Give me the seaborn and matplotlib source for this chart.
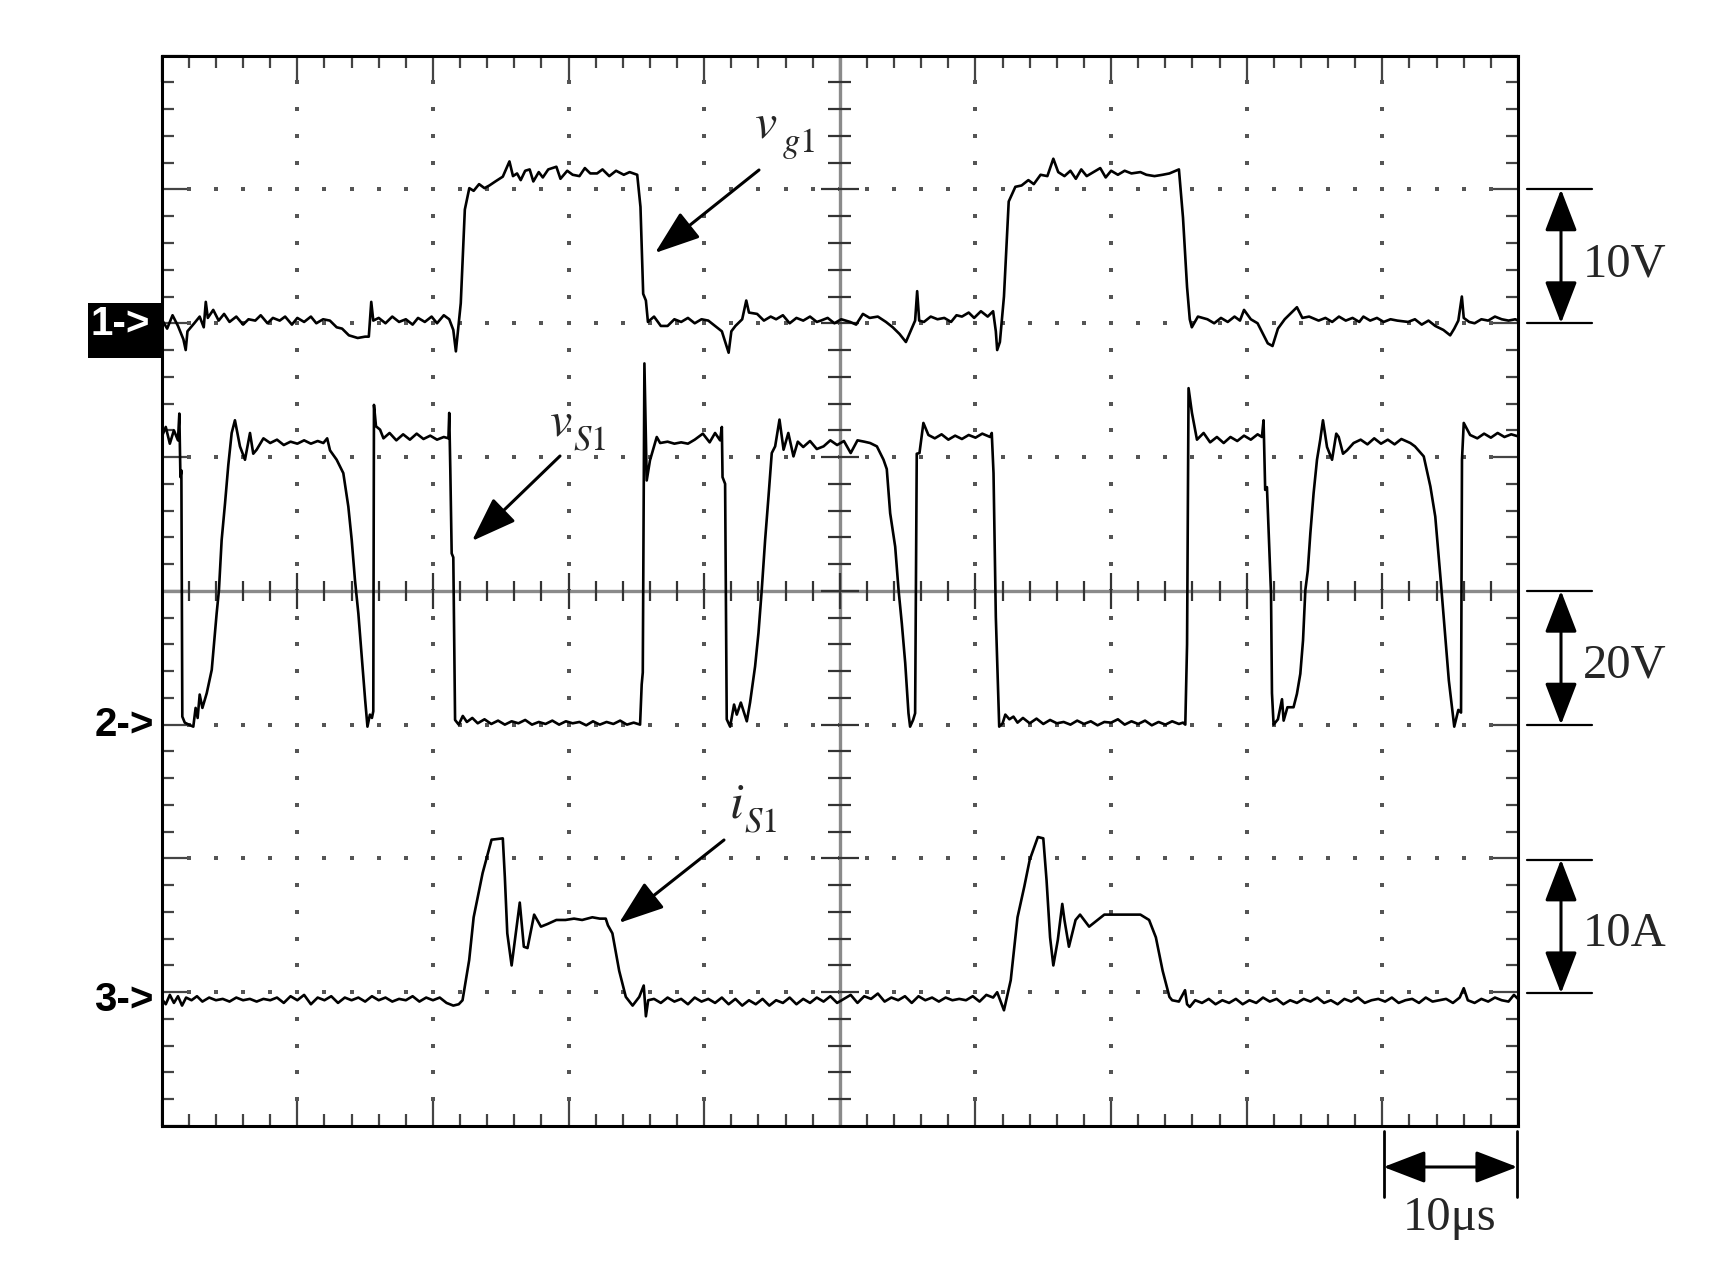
import matplotlib
matplotlib.use('Agg')
import matplotlib.pyplot as plt
from matplotlib.patches import Rectangle, FancyArrowPatch
from matplotlib.lines import Line2D
from matplotlib.ticker import MultipleLocator
import seaborn as sns
import pandas as pd
import numpy as np

# channel 1: gate voltage v_g1 [V], 10 V/div
vg1_t = [0.0, 0.4, 0.8, 1.2, 1.6, 1.77, 1.9, 2.4, 2.8, 3.1, 3.25, 3.4, 3.8, 4.2, 4.6, 5.0,
         5.5, 6.0, 6.4, 6.9, 7.3, 7.8, 8.2, 8.7, 9.1, 9.6, 10.0, 10.5, 11.0, 11.4, 11.9,
         12.4, 12.9, 13.3, 13.8, 14.45, 15.0, 15.27, 15.45, 15.6, 16.0, 16.5, 17.0, 17.5,
         18.0, 18.5, 18.9, 19.4, 19.9, 20.3, 20.8, 21.2, 21.5, 21.69, 21.85, 22.05, 22.35,
         22.68, 23.0, 23.4, 23.8, 24.16, 24.6, 25.15, 25.64, 25.9, 26.2, 26.47, 26.8, 27.13,
         27.4, 27.8, 28.1, 28.5, 29.1, 29.4, 29.9, 30.3, 30.8, 31.2, 31.6, 32.1, 32.5, 33.0,
         33.5, 34.07, 34.5, 35.06, 35.3, 35.5, 35.7, 35.85, 36.3, 36.8, 37.3, 37.8, 38.3,
         38.8, 39.3, 39.8, 40.3, 40.8, 41.3, 41.8, 42.0, 42.3, 42.8, 43.1, 43.3, 43.9, 44.4,
         44.9, 45.3, 45.8, 46.3, 46.8, 47.3, 47.8, 48.3, 48.6, 49.1, 49.6, 50.1, 50.76, 51.2,
         51.7, 52.2, 52.8, 53.4, 53.9, 54.4, 54.87, 55.3, 55.55, 55.7, 55.85, 56.2, 56.7,
         57.2, 57.7, 58.2, 58.6, 59.0, 59.5, 59.9, 60.4, 60.9, 61.3, 61.5, 61.6, 61.8, 62.1,
         62.45, 62.94, 63.4, 63.9, 64.3, 64.8, 65.3, 65.74, 66.1, 66.56, 67.0, 67.4, 67.8,
         68.2, 68.7, 69.2, 69.6, 70.0, 70.5, 71.0, 71.5, 72.16, 72.6, 73.2, 73.8, 74.3, 75.0,
         75.3, 75.6, 75.8, 75.95, 76.4, 77.1, 77.6, 78.1, 78.6, 79.1, 79.5, 79.8, 80.3, 80.8,
         81.2, 81.55, 81.9, 82.3, 82.8, 83.3, 83.7, 84.1, 84.6, 85.3, 85.8, 86.3, 86.8, 87.3,
         87.8, 88.3, 88.6, 89.1, 89.6, 90.1, 90.6, 91.1, 91.9, 92.4, 92.9, 93.4, 93.9, 94.5,
         95.0, 95.3, 95.6, 95.86, 96.0, 96.4, 96.8, 97.3, 97.8, 98.3, 98.8, 99.3, 99.8, 100.0]
vg1_v = [0.3, -0.4, 0.6, -0.2, -1.2, -2.0, -0.6, 0.0, 0.5, -0.3, 1.6, 0.4, 1.0, 0.2, 0.7, 0.1,
         0.5, -0.1, 0.3, 0.2, 0.6, 0.0, 0.4, 0.2, 0.5, -0.1, 0.4, 0.1, 0.5, 0.0, 0.3,
         0.2, -0.3, -0.4, -0.9, -1.1, -1.0, -1.0, 1.6, 0.2, 0.4, 0.0, 0.5, 0.1,
         0.3, -0.1, 0.4, 0.1, 0.5, 0.0, 0.6, 0.3, -0.5, -2.1, -0.5, 1.5, 8.5,
         10.1, 9.9, 10.4, 10.1, 10.3, 10.6, 10.96, 12.1, 11.0, 11.2, 10.7, 11.4, 11.5,
         10.6, 11.3, 10.9, 11.5, 11.7, 10.8, 11.4, 11.1, 11.0, 11.6, 11.2, 11.2, 11.5, 11.0,
         11.4, 11.1, 11.3, 11.1, 8.7, 2.2, 1.7, 0.1, 0.5, -0.2, -0.2, 0.3, 0.1,
         0.4, 0.0, 0.3, 0.2, -0.2, -0.6, -2.2, -0.6, -0.2, 0.3, 1.7, 0.8, 0.7, 0.2,
         0.5, 0.3, 0.6, 0.0, 0.4, 0.2, 0.5, 0.1, 0.2, 0.4, 0.0, 0.3, 0.1, -0.1,
         0.7, 0.4, 0.5, 0.1, -0.3, -0.8, -1.4, -0.4, 0.2, 2.4, 0.2, 0.1, 0.5,
         0.3, 0.4, 0.1, 0.6, 0.5, 0.8, 0.4, 0.9, 0.5, 0.9, -0.6, -2.0, -1.4, 2.0,
         9.1, 10.2, 10.3, 10.7, 10.4, 11.1, 11.0, 12.3, 11.3, 11.0, 11.4, 10.8, 11.5,
         11.0, 11.3, 11.6, 10.9, 11.4, 11.1, 11.4, 11.2, 11.3, 11.1, 11.0, 11.1, 11.2, 11.5,
         7.9, 2.7, 0.3, -0.3, 0.5, 0.3, 0.0, 0.4, 0.1, 0.5, 0.2, 1.0, 0.3, 0.0,
         -0.8, -1.5, -1.7, -0.4, 0.3, 0.8, 1.2, 0.4, 0.5, 0.2, 0.4, 0.1, 0.5, 0.2,
         0.4, 0.1, 0.5, 0.2, 0.4, 0.1, 0.3, 0.2, 0.1, 0.3, -0.1, 0.2, -0.2, -0.5,
         -0.9, -0.4, 0.2, 2.0, 0.4, 0.1, 0.0, 0.3, 0.2, 0.5, 0.3, 0.2, 0.3, 0.2]

# channel 2: switch voltage v_S1 [V], 20 V/div
vs1_t = [0.0, 0.3, 0.6, 0.9, 1.2, 1.3, 1.38, 1.45, 1.52, 1.7, 2.0, 2.33, 2.5, 2.65, 2.8, 3.0,
         3.32, 3.69, 4.05, 4.22, 4.42, 4.67, 4.91, 5.16, 5.4, 5.77, 6.14, 6.51, 6.75, 7.0,
         7.5, 8.0, 8.5, 9.0, 9.5, 10.0, 10.5, 11.0, 11.5, 11.92, 12.2, 12.41, 12.9, 13.39,
         13.76, 14.01, 14.25, 14.5, 14.75, 15.0, 15.17, 15.35, 15.5, 15.6, 15.65, 15.8, 16.1,
         16.35, 16.8, 17.3, 17.8, 18.3, 18.8, 19.3, 19.8, 20.3, 20.8, 21.14, 21.2, 21.28,
         21.38, 21.5, 21.63, 21.9, 22.2, 22.5, 22.9, 23.3, 23.8, 24.3, 24.8, 25.3, 25.8,
         26.3, 26.8, 27.3, 27.8, 28.3, 28.8, 29.3, 29.8, 30.3, 30.8, 31.3, 31.8, 32.3, 32.8,
         33.3, 33.8, 34.3, 34.8, 35.27, 35.39, 35.47, 35.59, 35.76, 36.0, 36.5, 36.75, 37.3,
         37.8, 38.3, 38.8, 39.3, 39.9, 40.4, 40.8, 41.17, 41.3, 41.35, 41.54, 41.66, 41.91,
         42.2, 42.4, 42.7, 43.14, 43.38, 43.75, 44.0, 44.24, 44.49, 44.74, 44.98, 45.23,
         45.55, 45.85, 46.2, 46.58, 46.9, 47.3, 47.8, 48.3, 48.8, 49.3, 49.8, 50.3, 50.8,
         51.3, 51.8, 52.23, 52.73, 53.22, 53.46, 53.71, 54.08, 54.33, 54.57, 54.82, 55.06,
         55.18, 55.4, 55.55, 55.67, 55.87, 56.16, 56.53, 57.0, 57.5, 58.0, 58.5, 59.0, 59.5,
         60.0, 60.5, 61.08, 61.2, 61.33, 61.5, 61.75, 62.0, 62.2, 62.5, 62.8, 63.1, 63.5,
         64.0, 64.5, 65.0, 65.5, 66.0, 66.5, 67.0, 67.5, 68.0, 68.5, 69.0, 69.5, 70.0, 70.5,
         71.0, 71.5, 72.0, 72.5, 73.0, 73.5, 74.0, 74.5, 75.0, 75.3, 75.47, 75.6, 75.71,
         75.96, 76.33, 76.82, 77.3, 77.8, 78.3, 78.8, 79.3, 79.8, 80.3, 80.8, 81.12, 81.24,
         81.36, 81.49, 81.61, 81.79, 81.86, 81.98, 82.3, 82.6, 82.72, 83.0, 83.45, 83.7,
         83.95, 84.15, 84.32, 84.5, 84.69, 84.93, 85.18, 85.42, 85.62, 85.92, 86.29, 86.6,
         86.78, 87.1, 87.39, 87.88, 88.4, 88.9, 89.4, 89.9, 90.4, 90.9, 91.4, 92.06, 92.4,
         93.05, 93.54, 93.9, 94.3, 94.5, 94.9, 95.3, 95.6, 95.8, 95.87, 96.0, 96.47, 97.0,
         97.5, 98.0, 98.5, 99.0, 99.5, 100.0]
vs1_v = [43.0, 44.5, 42.0, 44.0, 42.5, 46.5, 37.0, 38.0, 1.2, 0.3, 0.0, -0.3, 2.5, 1.0, 4.5, 2.5,
         4.7, 8.2, 16.6, 20.1, 27.6, 33.1, 38.8, 43.6, 45.5, 41.6, 39.6, 43.6, 40.5, 41.1,
         42.8, 42.1, 42.6, 41.8, 42.3, 42.0, 42.5, 42.0, 42.4, 42.1, 42.8, 41.0, 39.6, 37.6,
         32.6, 27.6, 21.6, 16.6, 10.2, 3.7, -0.3, 1.5, 1.0, 2.0, 47.8, 44.6, 44.1,
         42.8, 43.6, 42.5, 43.4, 42.6, 43.5, 42.7, 43.2, 42.6, 43.0, 42.8, 46.6, 38.0,
         25.6, 25.0, 0.7, 0.0, 1.3, 0.4, 1.0, 0.2, 0.8, 0.1, 0.6, 0.0, 0.5,
         0.2, 0.7, 0.0, 0.4, 0.1, 0.6, 0.0, 0.5, 0.2, 0.4, -0.1, 0.5, 0.0, 0.4,
         0.1, 0.6, 0.0, 0.3, 0.0, 6.0, 7.8, 54.0, 36.5, 39.5, 43.0, 42.1, 42.3,
         42.0, 42.2, 42.0, 42.6, 43.5, 42.2, 43.6, 42.5, 44.5, 37.0, 36.0, 0.8, -0.3,
         3.0, 1.5, 3.3, 0.5, 3.3, 8.7, 13.7, 20.1, 27.6, 34.1, 40.6, 41.6,
         45.6, 41.1, 43.6, 40.1, 42.3, 41.5, 42.4, 41.2, 41.6, 42.5, 41.8, 42.4, 40.6,
         42.5, 42.3, 42.1, 41.6, 39.6, 38.2, 31.6, 26.6, 20.1, 15.1, 9.2, 1.7,
         -0.3, 0.7, 1.7, 40.5, 40.6, 45.1, 43.3, 42.8, 43.4, 42.6, 43.2, 42.7, 43.3,
         42.9, 43.5, 43.0, 43.6, 37.6, 16.1, -0.3, 0.2, 1.5, 0.8, 1.2, 0.3, 1.0,
         0.2, 0.9, 0.1, 0.7, 0.2, 0.4, 0.0, 0.6, 0.1, 0.5, -0.1, 0.4, 0.3, 0.8,
         0.0, 0.5, 0.1, 0.6, -0.1, 0.4, 0.0, 0.5, 0.1, 0.3, 0.0, 12.0, 50.3,
         46.6, 42.6, 43.6, 42.2, 43.0, 42.1, 43.0, 42.4, 43.2, 42.6, 43.4, 43.0, 45.5,
         35.1, 35.5, 29.1, 19.6, 4.7, 0.0, 0.8, 3.8, 0.6, 2.6, 2.6, 4.6,
         7.6, 12.6, 20.1, 23.0, 28.6, 34.6, 39.6, 42.6, 45.5, 41.5, 39.6, 43.5,
         43.0, 40.5, 41.0, 42.1, 42.6, 41.9, 42.8, 42.0, 42.6, 41.9, 42.7, 42.1, 41.6,
         40.1, 35.6, 31.1, 21.6, 16.6, 6.6, -0.3, 2.2, 1.8, 39.6, 45.1, 43.3, 42.8,
         43.5, 42.9, 43.6, 43.0, 43.4, 43.1]

# channel 3: switch current i_S1 [A], 10 A/div
is1_t = [0.0, 0.3, 0.6, 0.9, 1.2, 1.5, 1.8, 2.2, 2.6, 3.0, 3.5, 4.0, 4.5, 5.0, 5.5, 6.0, 6.5,
         7.0, 7.5, 8.0, 8.5, 9.0, 9.5, 10.0, 10.5, 11.0, 11.5, 12.0, 12.5, 13.0, 13.5, 14.0,
         14.5, 15.0, 15.5, 16.0, 16.5, 17.0, 17.5, 18.0, 18.5, 19.0, 19.5, 20.0, 20.5, 21.0,
         21.5, 21.9, 22.18, 22.67, 23.0, 23.66, 24.32, 25.15, 25.3, 25.48, 25.8, 26.4, 26.7,
         26.97, 27.46, 27.96, 28.45, 29.1, 29.77, 30.4, 31.0, 31.75, 32.3, 32.74, 32.9,
         33.23, 33.73, 34.22, 34.72, 35.21, 35.54, 35.7, 35.87, 36.3, 36.8, 37.3, 37.8,
         38.3, 38.8, 39.3, 39.8, 40.3, 40.8, 41.3, 41.8, 42.3, 42.8, 43.3, 43.8, 44.3, 44.8,
         45.3, 45.8, 46.3, 46.8, 47.3, 47.8, 48.3, 48.8, 49.3, 49.8, 50.3, 50.8, 51.3, 51.8,
         52.3, 52.8, 53.3, 53.8, 54.3, 54.8, 55.3, 55.8, 56.3, 56.8, 57.3, 57.8, 58.3, 58.8,
         59.3, 59.8, 60.3, 60.8, 61.3, 61.6, 61.9, 62.1, 62.6, 63.1, 63.6, 64.0, 64.6, 65.0,
         65.24, 65.5, 65.74, 66.07, 66.4, 66.56, 66.89, 67.38, 67.71, 68.38, 69.5, 70.5,
         71.3, 72.16, 72.8, 73.3, 73.8, 74.3, 74.5, 75.0, 75.45, 75.6, 75.8, 76.2, 76.7,
         77.2, 77.7, 78.2, 78.7, 79.2, 79.7, 80.2, 80.7, 81.2, 81.7, 82.2, 82.7, 83.2, 83.7,
         84.2, 84.7, 85.2, 85.7, 86.2, 86.7, 87.2, 87.7, 88.2, 88.7, 89.2, 89.7, 90.2, 90.7,
         91.2, 91.7, 92.2, 92.7, 93.2, 93.7, 94.2, 94.7, 95.2, 95.7, 96.0, 96.3, 96.8, 97.3,
         97.8, 98.3, 98.8, 99.3, 99.7, 100.0]
is1_a = [0.1, -0.3, 0.4, -0.2, 0.3, -0.4, 0.2, 0.0, 0.3, -0.1, 0.2, 0.0, 0.1, -0.1, 0.2, 0.0, 0.1,
         -0.1, 0.1, 0.0, 0.2, -0.2, 0.3, 0.0, 0.4, -0.3, 0.2, 0.0, 0.3, -0.2, 0.2, 0.0,
         0.2, -0.1, 0.3, 0.0, 0.2, -0.1, 0.1, 0.0, 0.3, -0.1, 0.2, 0.0, 0.2, -0.2,
         -0.4, -0.3, 0.0, 3.0, 6.2, 9.5, 12.0, 12.1, 9.2, 5.0, 2.6, 7.3, 4.0,
         3.9, 6.4, 5.5, 5.7, 6.0, 6.0, 6.1, 6.0, 6.2, 6.1, 6.1, 5.6,
         5.0, 2.2, 0.25, -0.4, 0.25, 1.1, -1.2, 0.0, 0.1, -0.2, 0.2, -0.1,
         0.1, -0.3, 0.2, -0.1, 0.1, -0.2, 0.2, -0.3, 0.1, -0.4, 0.0, -0.3, 0.1, -0.4,
         0.0, -0.2, 0.2, -0.3, 0.1, -0.2, 0.2, -0.1, 0.3, -0.2, 0.1, 0.4, -0.2, 0.3,
         0.1, 0.5, -0.1, 0.2, 0.0, 0.3, -0.2, 0.3, 0.0, 0.2, -0.1, 0.2, 0.0, 0.1,
         0.0, 0.3, -0.1, 0.4, 0.2, 0.6, -0.2, -0.75, 1.5, 6.2, 8.5, 10.5, 12.2, 12.1,
         8.97, 4.7, 2.6, 4.5, 7.2, 6.0, 4.0, 6.0, 6.4, 5.5, 6.4, 6.4,
         6.4, 6.4, 6.0, 4.7, 2.2, 0.25, 0.0, -0.1, 0.75, -0.3, -0.5, 0.0, -0.2,
         0.1, -0.3, 0.0, -0.2, 0.1, -0.3, 0.0, -0.2, 0.2, -0.1, 0.1, -0.3, 0.0, -0.2,
         0.1, -0.1, 0.2, -0.2, 0.0, -0.3, 0.1, -0.1, 0.2, -0.2, 0.0, 0.1, -0.1, 0.2,
         -0.2, 0.0, 0.1, -0.2, 0.2, -0.1, 0.0, 0.1, -0.2, 0.2, 0.9, 0.0, -0.2, 0.1,
         -0.1, 0.2, 0.0, -0.1, 0.4, 0.1]

channel_names = ['vg1', 'vS1', 'iS1']
channel_zero = [6.0, 3.0, 0.94]      # trace ground position, divisions from bottom
channel_per_div = [10.0, 20.0, 10.0]  # V/div, V/div, A/div
scale_labels = ['10V', '20V', '10A']

W, H = 1719, 1271


def fpos(x, y):
    # pixel position measured from the top-left corner -> figure fraction
    return x / W, 1 - y / H


sns.set_style('white')
plt.rcParams['font.family'] = ['Liberation Serif', 'DejaVu Serif']
plt.rcParams['mathtext.fontset'] = 'stix'

fig = plt.figure(figsize=(W / 100, H / 100), dpi=100)
ax = fig.add_axes([161.7 / W, 1 - 1126 / H, (1518 - 161.7) / W, (1126 - 55.7) / H])

traces = [(vg1_t, vg1_v), (vs1_t, vs1_v), (is1_t, is1_a)]
for name, (t, vals), zero, per_div in zip(channel_names, traces, channel_zero, channel_per_div):
    df = pd.DataFrame({'t': t, 'div': zero + np.asarray(vals) / per_div})
    sns.lineplot(data=df, x='t', y='div', ax=ax, color='black', linewidth=1.9,
                 estimator=None, sort=False, zorder=4)

ax.set_xlim(0, 100)
ax.set_ylim(0, 8)
ax.set_xlabel('')
ax.set_ylabel('')
ax.xaxis.set_major_locator(MultipleLocator(10))
ax.xaxis.set_minor_locator(MultipleLocator(2))
ax.yaxis.set_major_locator(MultipleLocator(1))
ax.yaxis.set_minor_locator(MultipleLocator(0.2))
ax.tick_params(which='both', direction='in', top=True, right=True, bottom=True, left=True,
               labelbottom=False, labelleft=False, color='#444444', width=1.6)
ax.tick_params(which='major', length=19)
ax.tick_params(which='minor', length=8.5)
for sp in ax.spines.values():
    sp.set_linewidth(2.2)
    sp.set_color('black')

# dotted graticule
gx = [10, 20, 30, 40, 60, 70, 80, 90]
gy = [1, 2, 3, 5, 6, 7]
dots_t = np.arange(2, 100, 2)
dots_d = np.arange(0.2, 8, 0.2)
for x in gx:
    ax.scatter(np.full(len(dots_d), x), dots_d, s=5, marker='s', color='#555555', linewidths=0, zorder=1)
for y in gy:
    ax.scatter(dots_t, np.full(len(dots_t), y), s=5, marker='s', color='#555555', linewidths=0, zorder=1)

# centre cross with its ticks
ax.axhline(4, color='#8a8a8a', lw=2.4, zorder=2)
ax.axvline(50, color='#8a8a8a', lw=2.4, zorder=2)
for x in dots_t:
    h = 0.135 if x % 10 == 0 else 0.075
    ax.vlines(x, 4 - h, 4 + h, color='#333333', lw=1.6, zorder=3)
for y in dots_d:
    major = abs(y - round(y)) < 1e-6
    h = 1.4 if major else 0.85
    ax.hlines(y, 50 - h, 50 + h, color='#333333', lw=1.6, zorder=3)

# channel markers on the left
fig.add_artist(Rectangle(fpos(88, 358), 73 / W, 55 / H, transform=fig.transFigure,
                         facecolor='black', edgecolor='none'))
fig.text(*fpos(150, 324), '1->', color='white', fontsize=29, fontweight='bold',
         family='Liberation Sans', ha='right', va='center')
fig.text(*fpos(154, 725), '2->', color='black', fontsize=29, fontweight='bold',
         family='Liberation Sans', ha='right', va='center')
fig.text(*fpos(154, 1000), '3->', color='black', fontsize=29, fontweight='bold',
         family='Liberation Sans', ha='right', va='center')


def arrow(p0, p1, style):
    fig.add_artist(FancyArrowPatch(fpos(*p0), fpos(*p1), transform=fig.transFigure,
                                   arrowstyle=style, mutation_scale=1, lw=2.2,
                                   color='black', shrinkA=0, shrinkB=0))


def label(x, y, main, sub, sub_dx):
    # italic symbol with a lowered subscript, as typeset in the paper figure
    fig.text(*fpos(x, y), '$' + main + '$', fontsize=36, ha='left', va='baseline')
    fig.text(*fpos(x + sub_dx, y + 15), '$' + sub + '$', fontsize=25, ha='left', va='baseline')


# trace annotations
label(754, 137, 'v', r'g\mathrm{1}', 28)
arrow((759, 170), (655, 253), '-|>,head_length=28,head_width=10')
label(549, 435, 'v', r'S\mathrm{1}', 24)
arrow((560, 456), (472, 541), '-|>,head_length=28,head_width=10')
label(729, 817, 'i', r'S\mathrm{1}', 15)
arrow((724, 840), (619, 923), '-|>,head_length=28,head_width=10')

# vertical scale bars on the right
for zero, text in zip(channel_zero, scale_labels):
    y_lo = 1126 - zero * 133.8 if text != '10A' else 993.3
    y_hi = y_lo - 133.8
    for y in (y_lo, y_hi):
        fig.add_artist(Line2D([1527 / W, 1592 / W], [1 - y / H, 1 - y / H],
                              transform=fig.transFigure, color='black', lw=1.6))
    arrow((1561, y_hi), (1561, y_lo), '<|-|>,head_length=26,head_width=10')
    fig.text(*fpos(1583, y_lo - 47), text, fontsize=35, ha='left', va='baseline')

# horizontal time bar
for x in (1383.5, 1517.3):
    fig.add_artist(Line2D([x / W, x / W], [1 - 1131 / H, 1 - 1197 / H],
                          transform=fig.transFigure, color='black', lw=2))
arrow((1383.5, 1167), (1517.3, 1167), '<|-|>,head_length=26,head_width=10')
fig.text(*fpos(1450, 1230), '10\u03bcs', fontsize=35, ha='center', va='baseline')

fig.savefig('out.png', dpi=100)
